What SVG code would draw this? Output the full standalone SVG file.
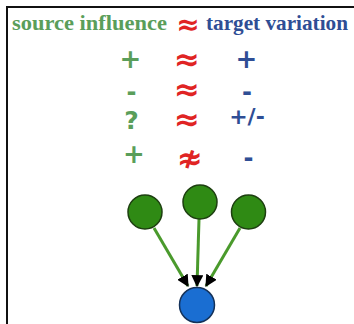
<svg xmlns="http://www.w3.org/2000/svg" width="354" height="324" viewBox="0 0 354 324">
  <style>
    .hd { font-family: "Liberation Serif", "DejaVu Serif", serif; font-weight: bold; font-size: 21px; }
    .sym { font-family: "DejaVu Sans", "Liberation Sans", sans-serif; font-weight: bold; text-anchor: middle; }
    .src { fill: #5a9e5a; }
    .tgt { fill: #2f4e95; }
    .rel { fill: #e02424; }
    .parent { fill: #2f8a14; stroke: #1d3f10; stroke-width: 1.5; }
    .child { fill: #1a6ed2; stroke: #14325a; stroke-width: 1.5; }
    .edge { stroke: #4a9a2c; stroke-width: 3; fill: none; marker-end: url(#head); }
  </style>
  <defs>
    <marker id="head" viewBox="0 0 10 10" refX="9" refY="5" markerWidth="4" markerHeight="4" orient="auto" markerUnits="strokeWidth">
      <path d="M0,0 L10,5 L0,10 z" fill="#000"/>
    </marker>
  </defs>

  <rect width="354" height="324" fill="#fff"/>
  <!-- frame: top and left rules -->
  <path d="M7,324 V7 H354" fill="none" stroke="#111" stroke-width="2"/>

  <!-- header -->
  <text class="hd src" x="12" y="30" textLength="155" lengthAdjust="spacingAndGlyphs">source influence</text>
  <text class="sym rel" x="188" y="34" font-size="28">≈</text>
  <text class="hd tgt" x="206" y="30" textLength="142" lengthAdjust="spacingAndGlyphs">target variation</text>

  <!-- row 1 -->
  <text class="sym src" x="130.5" y="68" font-size="26">+</text>
  <text class="sym rel" x="187" y="70" font-size="31">≈</text>
  <text class="sym tgt" x="246.5" y="68" font-size="26">+</text>
  <!-- row 2 -->
  <text class="sym src" x="131.5" y="100" font-size="24">-</text>
  <text class="sym rel" x="187" y="100" font-size="31">≈</text>
  <text class="sym tgt" x="247" y="100" font-size="24">-</text>
  <!-- row 3 -->
  <text class="sym src" x="131.5" y="129" font-size="25">?</text>
  <text class="sym rel" x="187" y="130" font-size="31">≈</text>
  <text class="sym tgt" x="247" y="124" font-size="22">+/-</text>
  <!-- row 4 -->
  <text class="sym src" x="134" y="163" font-size="26">+</text>
  <text class="sym rel" x="190" y="169" font-size="31">≉</text>
  <text class="sym tgt" x="248.5" y="166" font-size="24">-</text>

  <!-- connectors -->
  <g id="edges">
    <path class="edge" d="M154,228 L188,286"/>
    <path class="edge" d="M199,219 L197,286"/>
    <path class="edge" d="M240,228 L206,286"/>
  </g>

  <!-- nodes -->
  <g id="parent-a"><circle class="parent" cx="145" cy="212" r="17"/></g>
  <g id="parent-b"><circle class="parent" cx="200" cy="202" r="17"/></g>
  <g id="parent-c"><circle class="parent" cx="248.5" cy="212" r="17"/></g>
  <g id="child"><circle class="child" cx="197" cy="305" r="17.5"/></g>
</svg>
